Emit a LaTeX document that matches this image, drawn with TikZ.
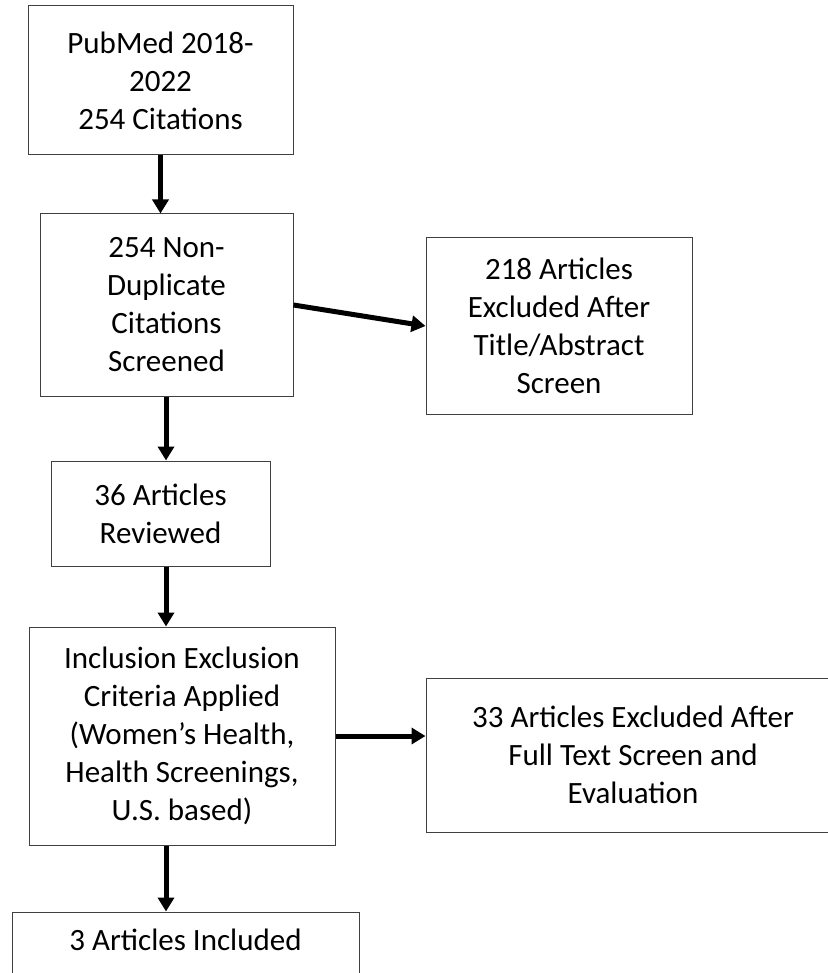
\documentclass[tikz,border=0pt]{standalone}
\usepackage{fontspec}
\setmainfont{Carlito}
\usetikzlibrary{arrows.meta, calc}

\begin{document}
\begin{tikzpicture}[
    x=1pt, y=-1pt,
    font=\fontsize{31}{38}\selectfont,
    record/.style={draw=black!75, line width=1pt, align=center, inner sep=0pt},
    move/.style={-{Triangle[length=14pt, width=16pt]}, line width=5pt, black}
]
\useasboundingbox (0,0) rectangle (827,973);
\node[record, minimum width=265pt, minimum height=149pt] (pub) at (160.5,80.5)
    {PubMed 2018-\\2022\\254 Citations};
\node[record, minimum width=253pt, minimum height=182pt] (scr) at (166.5,305)
    {254 Non-\\Duplicate\\Citations\\Screened};
\node[record, minimum width=266pt, minimum height=176pt] (exc1) at (559,326)
    {218 Articles\\Excluded After\\Title/Abstract\\Screen};
\node[record, minimum width=219pt, minimum height=105pt] (rev) at (160.5,513.5)
    {36 Articles\\Reviewed};
\node[record, minimum width=306pt, minimum height=218pt] (crit) at (182,736)
    {Inclusion Exclusion\\Criteria Applied\\(Women’s Health,\\Health Screenings,\\U.S. based)};
\node[record, minimum width=414pt, minimum height=154pt] (exc2) at (633,755)
    {33 Articles Excluded After\\Full Text Screen and\\Evaluation};
\node[record, minimum width=347pt, text height=38pt, text depth=62pt] (inc) at (185.5,962)
    {3 Articles Included};
\coordinate (spine) at (166,0);
\draw[move] (pub.south) -- (pub.south |- scr.north);
\draw[move] (scr.east) -- (exc1.west);
\draw[move] (spine |- scr.south) -- (spine |- rev.north);
\draw[move] (spine |- rev.south) -- (spine |- crit.north);
\draw[move] (crit.east) -- (crit.east -| exc2.west);
\draw[move] (spine |- crit.south) -- (spine |- inc.north);
\end{tikzpicture}
\end{document}
